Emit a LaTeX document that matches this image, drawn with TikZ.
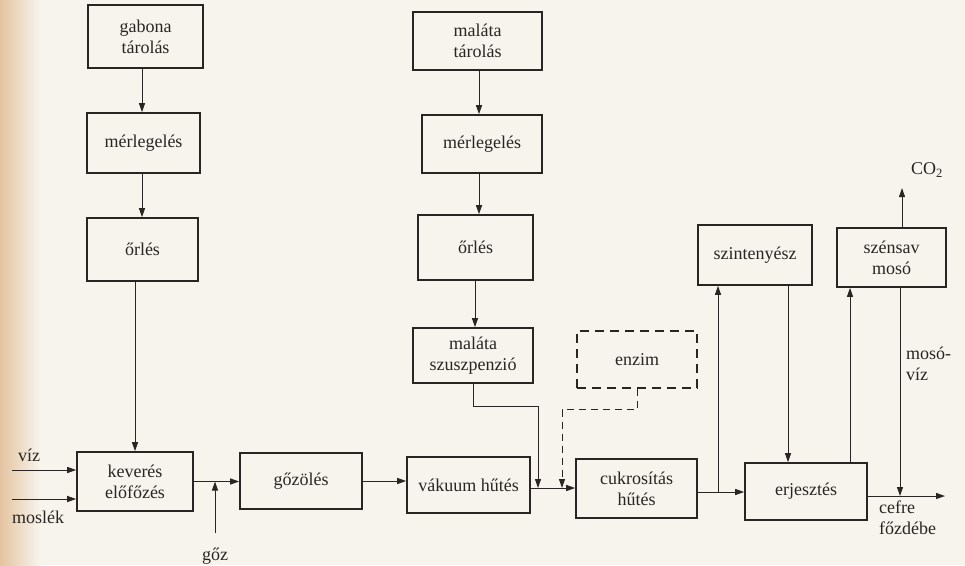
\documentclass[tikz,border=0pt]{standalone}
\usepackage{fontspec}
\setmainfont{Liberation Serif}
\usetikzlibrary{arrows.meta,calc}
\definecolor{paper}{RGB}{247,244,238}
\definecolor{tan}{RGB}{228,196,160}
\definecolor{ink}{RGB}{42,37,34}
\tikzset{
  box/.style={draw=ink, line width=1.6pt, align=center, text=ink, inner sep=2pt,
    font=\fontsize{18}{21}\selectfont},
  dbox/.style={box, dashed, dash pattern=on 9pt off 6pt},
  arr/.style={draw=ink, line width=1pt, -{Triangle[length=9pt,width=6pt]}},
  lbl/.style={text=ink, font=\fontsize{18}{21}\selectfont, inner sep=0pt}
}
\begin{document}
\begin{tikzpicture}[x=1pt,y=-1pt]
\useasboundingbox (0,0) rectangle (965,565);
\fill[paper] (0,0) rectangle (965,565);
\shade[left color=tan, right color=paper] (0,0) rectangle (40,565);

% left column
\node[box, minimum width=115pt, minimum height=63pt] (gab) at (145.5,36.5) {gabona\\tárolás};
\node[box, minimum width=113pt, minimum height=60pt] (merl1) at (143.5,143) {mérlegelés};
\node[box, minimum width=111pt, minimum height=63pt] (orl1) at (142.5,249.5) {őrlés};
\node[box, minimum width=116pt, minimum height=59pt] (kev) at (135,481.5) {keverés\\előfőzés};
\node[box, minimum width=122pt, minimum height=56pt] (goz) at (301,481) {gőzölés};

% middle column
\node[box, minimum width=129pt, minimum height=58pt] (malt) at (477.5,41) {maláta\\tárolás};
\node[box, minimum width=120pt, minimum height=58pt] (merl2) at (482,144) {mérlegelés};
\node[box, minimum width=115pt, minimum height=65pt] (orl2) at (475.5,247.5) {őrlés};
\node[box, minimum width=120pt, minimum height=55pt] (msz) at (473,355.5) {maláta\\szuszpenzió};
\node[box, minimum width=123pt, minimum height=56pt] (vak) at (468.5,485) {vákuum hűtés};

% right part
\node[dbox, minimum width=120pt, minimum height=57pt] (enz) at (637,359.5) {enzim};
\node[box, minimum width=121pt, minimum height=59pt] (cuk) at (636.5,488.5) {cukrosítás\\hűtés};
\node[box, minimum width=114pt, minimum height=60pt] (szint) at (755,255) {szintenyész};
\node[box, minimum width=109pt, minimum height=59pt] (szen) at (891.5,257.5) {szénsav\\mosó};
\node[box, minimum width=122pt, minimum height=57pt] (erj) at (806,491.5) {erjesztés};

% labels
\node[lbl] (viz) at (29,455) {víz};
\node[lbl] (mos) at (38,517) {moslék};
\node[lbl] (gozl) at (215,556) {gőz};
\node[lbl] (co2l) at (927,170) {CO\textsubscript{2}};
\node[lbl, align=left, anchor=north west] (mosviz) at (906,347) {mosó-\\víz};
\node[lbl, align=left, anchor=north west] (cefl) at (879,501) {cefre\\főzdébe};

% helper coordinates
\coordinate (c142) at (142,0);
\coordinate (c135) at (135,0);
\coordinate (c479) at (479,0);
\coordinate (c475) at (475,0);
\coordinate (c473) at (473,0);
\coordinate (c788) at (788,0);
\coordinate (c850) at (850,0);
\coordinate (c900) at (900,0);
\coordinate (c902) at (902,0);
\coordinate (vizin) at (12,470);
\coordinate (mosin) at (12,499);
\coordinate (gozin) at (215,533);
\coordinate (j1) at (538,488);
\coordinate (j2) at (562,488);
\coordinate (j3) at (718,492);
\coordinate (j4) at (900,496);
\coordinate (cefre) at (945,496);
\coordinate (co2) at (902,188);

% left column connectors
\draw[arr] (gab.south -| c142) -- (merl1.north -| c142);
\draw[arr] (merl1.south -| c142) -- (orl1.north -| c142);
\draw[arr] (orl1.south -| c135) -- (kev.north -| c135);
\draw[arr] (vizin) -- (vizin -| kev.west);
\draw[arr] (mosin) -- (mosin -| kev.west);
\draw[arr] (kev.east) -- (kev.east -| goz.west);
\draw[arr] (gozin) -- (gozin |- kev.east);
\draw[arr] (goz.east) -- (goz.east -| vak.west);

% middle column connectors
\draw[arr] (malt.south -| c479) -- (merl2.north -| c479);
\draw[arr] (merl2.south -| c479) -- (orl2.north -| c479);
\draw[arr] (orl2.south -| c475) -- (msz.north -| c475);
\draw[arr] (msz.south -| c473) -- ++(0,23) -| (j1);
\draw[arr] (vak.east |- j1) -- (cuk.west |- j1);
\draw[arr, dashed, dash pattern=on 7pt off 5pt] (enz.south) -- ++(0,21) -| (j2);

% right connectors
\draw[arr] (cuk.east |- j3) -- (erj.west |- j3);
\draw[arr] (j3) -- (j3 |- szint.south);
\draw[arr] (szint.south -| c788) -- (erj.north -| c788);
\draw[arr] (erj.north -| c850) -- (szen.south -| c850);
\draw[arr] (szen.south -| c900) -- (j4);
\draw[arr] (erj.east |- cefre) -- (cefre);
\draw[arr] (szen.north -| c902) -- (co2);
\end{tikzpicture}
\end{document}
